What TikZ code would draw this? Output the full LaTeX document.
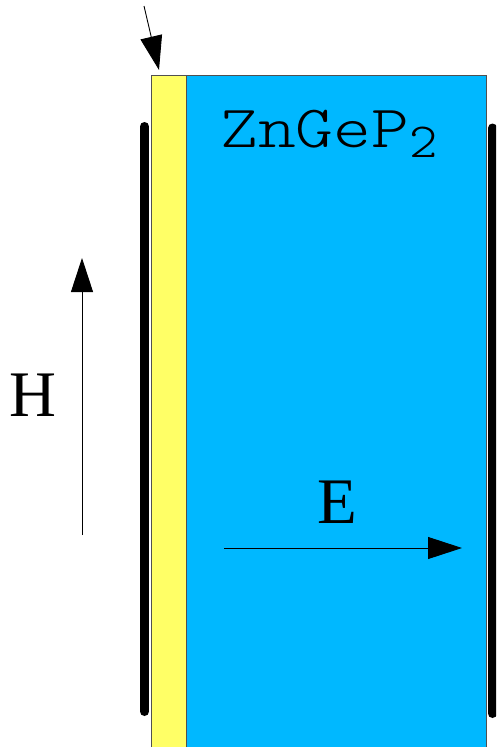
\documentclass[tikz,border=0pt]{standalone}
\usepackage{fontspec}
\usepackage{graphicx}
\setmainfont{Liberation Serif}
\newfontfamily\crystalfont{lmmonolt10-regular.otf}
\usetikzlibrary{arrows.meta}
\definecolor{layeryellow}{HTML}{FFFF66}
\definecolor{crystalblue}{HTML}{00B8FF}
\definecolor{edgegray}{HTML}{505050}
\begin{document}
\begin{tikzpicture}[x=1pt,y=-1pt,
  electrode/.style={line width=9pt, line cap=round, black},
  fieldarrow/.style={line width=0.9pt, -{Triangle[length=34pt,width=22pt]}},
  biglabel/.style={font=\fontsize{65}{65}\selectfont, inner sep=0pt, anchor=base}]
\useasboundingbox (0,0) rectangle (496,747);
\clip (0,0) rectangle (496,747);
\fill[crystalblue, draw=edgegray, line width=1pt] (186,75) rectangle (486,760);
\fill[layeryellow, draw=edgegray, line width=1pt] (151,75) rectangle (186,760);
\draw[electrode] (144.5,126.5) -- (144.5,711.5);
\draw[electrode] (492.5,128) -- (492.5,713.5);
\coordinate (kstart) at (144,6);
\coordinate (kend) at (159,70);
\draw[fieldarrow] (kstart) -- (kend);
\coordinate (hstart) at (82,535);
\coordinate (hend) at (82,258);
\draw[fieldarrow] (hstart) -- (hend);
\coordinate (estart) at (224,548);
\coordinate (eend) at (462,548);
\draw[fieldarrow] (estart) -- (eend);
\node[biglabel] (hlabel) at (33,416) {H};
\node[biglabel] (elabel) at (337,523) {E};
\node[inner sep=0pt, anchor=base west] (crystal) at (220,147)
  {\crystalfont\scalebox{1.2}[1]{\fontsize{60}{60}\selectfont ZnGeP}\raisebox{-10pt}{\scalebox{1.1}[1]{\fontsize{49}{49}\selectfont 2}}};
\end{tikzpicture}
\end{document}
